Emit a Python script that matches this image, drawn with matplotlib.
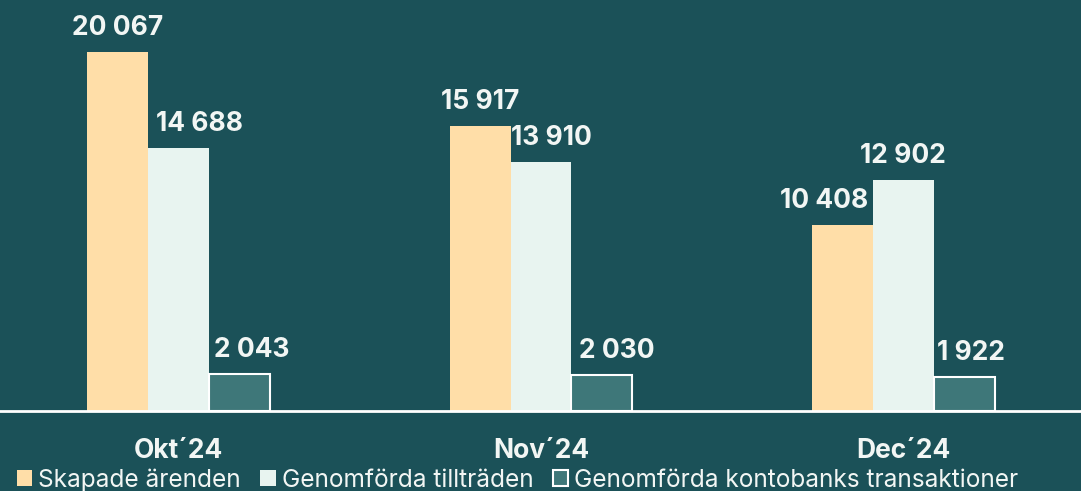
import matplotlib
matplotlib.use("Agg")
import matplotlib.pyplot as plt
from matplotlib.patches import Patch

months = ["Okt\u00b424", "Nov\u00b424", "Dec\u00b424"]
series_names = ["Skapade ärenden", "Genomförda tillträden", "Genomförda kontobanks transaktioner"]
skapade = [20067, 15917, 10408]
tilltraden = [14688, 13910, 12902]
kontobank = [2043, 2030, 1922]

# small sideways nudges of the value labels (pixels), as in the original
label_dx = [[0, 0, -18], [21, 10, -1], [12, 15, 7]]

bg = "#1b5158"
colors = ["#ffdea8", "#e8f4f0", "#3e7779"]
edges = [None, None, "#ffffff"]
txt = "#f2f6f4"

plt.rcParams['font.family'] = ['Inter', 'DejaVu Sans']

fig = plt.figure(figsize=(10.81, 4.91), dpi=100, facecolor=bg)
ax = fig.add_axes([0, 80 / 491, 1, 411 / 491])
ax.set_facecolor(bg)

width = 0.168
x = range(len(months))
for k, vals in enumerate([skapade, tilltraden, kontobank]):
    off = (k - 1) * width
    xs = [i + off for i in x]
    if edges[k]:
        ax.bar(xs, vals, width, color=colors[k], edgecolor=edges[k], linewidth=1.5, zorder=2)
    else:
        ax.bar(xs, vals, width, color=colors[k], linewidth=0, zorder=2)
    for j, (xi, v) in enumerate(zip(xs, vals)):
        label = f"{v:,}".replace(",", " ")
        ax.annotate(label, xy=(xi, v), xytext=(label_dx[k][j], 17), textcoords="offset pixels",
                    ha="center", va="baseline", color=txt, fontsize=19, fontweight="bold",
                    zorder=5)

# month labels under the baseline
for i, m in enumerate(months):
    ax.annotate(m, xy=(i, 0), xycoords=("data", "axes fraction"), xytext=(0, -47),
                textcoords="offset pixels", ha="center", va="baseline",
                color=txt, fontsize=19, fontweight="bold", annotation_clip=False)

ax.set_xlim(-178.5 / 362.5, (1081 - 178.5) / 362.5)
ax.set_ylim(0, 411 / 359 * 20067)
ax.axhline(0, color="#ffffff", linewidth=2, zorder=3, clip_on=False)
for s in ax.spines.values():
    s.set_visible(False)
ax.set_xticks([])
ax.set_yticks([])

handles = [Patch(facecolor=colors[k], edgecolor=edges[k] if edges[k] else colors[k],
                 linewidth=1.5 if edges[k] else 0) for k in range(3)]
fig.legend(handles, series_names, loc="lower left", bbox_to_anchor=(17 / 1081, -1 / 491),
           ncol=3, frameon=False, fontsize=17.6, labelcolor=txt,
           handlelength=0.62, handleheight=0.62, handletextpad=0.25,
           columnspacing=0.8, borderpad=0, borderaxespad=0)

fig.savefig("out.png", dpi=100, facecolor=bg)
